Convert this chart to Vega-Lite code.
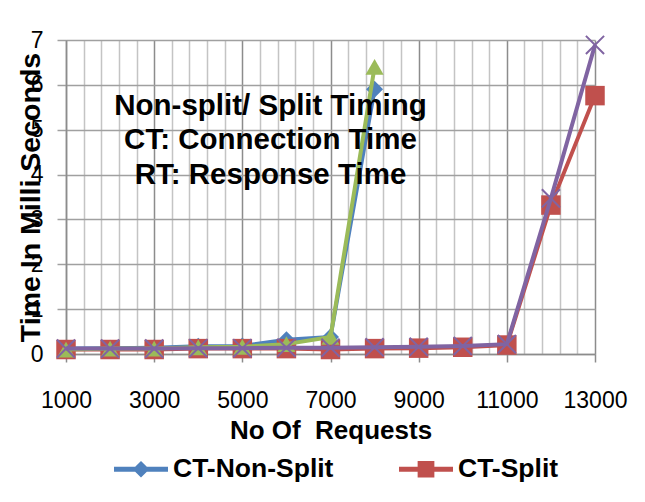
{
  "$schema": "https://vega.github.io/schema/vega-lite/v6.json",
  "width": 529,
  "height": 314,
  "autosize": {"type": "none"},
  "padding": {"left": 66, "top": 40, "right": 50, "bottom": 148},
  "background": "white",
  "config": {
    "font": "Liberation Sans",
    "view": {"stroke": null},
    "title": {"color": "black"}
  },
  "title": {
    "text": ["Non-split/ Split Timing", "CT: Connection Time", "RT: Response Time"],
    "fontSize": 29.5,
    "fontWeight": "bold",
    "lineHeight": 34.5,
    "color": "black",
    "anchor": "middle",
    "frame": "group",
    "baseline": "top",
    "orient": "top",
    "offset": 0,
    "dx": -60,
    "dy": 161
  },
  "data": {
    "values": [
      {"series": "CT-Non-Split", "requests": 1000, "time": 0.12},
      {"series": "CT-Non-Split", "requests": 2000, "time": 0.13},
      {"series": "CT-Non-Split", "requests": 3000, "time": 0.14},
      {"series": "CT-Non-Split", "requests": 4000, "time": 0.17},
      {"series": "CT-Non-Split", "requests": 5000, "time": 0.18},
      {"series": "CT-Non-Split", "requests": 6000, "time": 0.32},
      {"series": "CT-Non-Split", "requests": 7000, "time": 0.38},
      {"series": "CT-Non-Split", "requests": 8000, "time": 5.9},
      {"series": "CT-Split", "requests": 1000, "time": 0.1},
      {"series": "CT-Split", "requests": 2000, "time": 0.1},
      {"series": "CT-Split", "requests": 3000, "time": 0.1},
      {"series": "CT-Split", "requests": 4000, "time": 0.12},
      {"series": "CT-Split", "requests": 5000, "time": 0.12},
      {"series": "CT-Split", "requests": 6000, "time": 0.12},
      {"series": "CT-Split", "requests": 7000, "time": 0.1},
      {"series": "CT-Split", "requests": 8000, "time": 0.12},
      {"series": "CT-Split", "requests": 9000, "time": 0.13},
      {"series": "CT-Split", "requests": 10000, "time": 0.15},
      {"series": "CT-Split", "requests": 11000, "time": 0.2},
      {"series": "CT-Split", "requests": 12000, "time": 3.32},
      {"series": "CT-Split", "requests": 13000, "time": 5.76},
      {"series": "RT-Non-Split", "requests": 1000, "time": 0.1},
      {"series": "RT-Non-Split", "requests": 2000, "time": 0.12},
      {"series": "RT-Non-Split", "requests": 3000, "time": 0.12},
      {"series": "RT-Non-Split", "requests": 4000, "time": 0.15},
      {"series": "RT-Non-Split", "requests": 5000, "time": 0.16},
      {"series": "RT-Non-Split", "requests": 6000, "time": 0.22},
      {"series": "RT-Non-Split", "requests": 7000, "time": 0.38},
      {"series": "RT-Non-Split", "requests": 8000, "time": 6.4},
      {"series": "RT-Split", "requests": 1000, "time": 0.12},
      {"series": "RT-Split", "requests": 2000, "time": 0.12},
      {"series": "RT-Split", "requests": 3000, "time": 0.12},
      {"series": "RT-Split", "requests": 4000, "time": 0.13},
      {"series": "RT-Split", "requests": 5000, "time": 0.13},
      {"series": "RT-Split", "requests": 6000, "time": 0.14},
      {"series": "RT-Split", "requests": 7000, "time": 0.14},
      {"series": "RT-Split", "requests": 8000, "time": 0.15},
      {"series": "RT-Split", "requests": 9000, "time": 0.16},
      {"series": "RT-Split", "requests": 10000, "time": 0.18},
      {"series": "RT-Split", "requests": 11000, "time": 0.22},
      {"series": "RT-Split", "requests": 12000, "time": 3.47},
      {"series": "RT-Split", "requests": 13000, "time": 6.89}
    ]
  },
  "encoding": {
    "x": {
      "field": "requests",
      "type": "quantitative",
      "scale": {"domain": [1000, 13000], "nice": false, "zero": false},
      "axis": {
        "values": [1000,1400,1800,2200,2600,3000,3400,3800,4200,4600,5000,5400,5800,6200,6600,7000,7400,7800,8200,8600,9000,9400,9800,10200,10600,11000,11400,11800,12200,12600,13000],
        "format": "d",
        "labelExpr": "datum.value % 2000 === 1000 ? datum.label : ''",
        "labelFontSize": 23,
        "labelColor": "black",
        "labelPadding": 27,
        "labelFlush": false,
        "labelOverlap": false,
        "grid": true,
        "gridColor": {"condition": {"test": "datum.value % 2000 === 1000", "value": "#8c8c8c"}, "value": "#c4c4c4"},
        "gridWidth": 1.5,
        "gridOpacity": 1,
        "tickSize": 8,
        "tickWidth": 1.5,
        "tickColor": "#8c8c8c",
        "tickOpacity": {"condition": {"test": "datum.value % 2000 === 1000", "value": 1}, "value": 0},
        "domainColor": "#8c8c8c",
        "domainWidth": 1.5,
        "title": "No Of\u00a0 Requests",
        "titleFontSize": 26,
        "titleFontWeight": "bold",
        "titleColor": "black",
        "titleBaseline": "alphabetic",
        "titleY": 84
      }
    },
    "y": {
      "field": "time",
      "type": "quantitative",
      "scale": {"domain": [0, 7], "nice": false},
      "axis": {
        "values": [0, 1, 2, 3, 4, 5, 6, 7],
        "labelFontSize": 23,
        "labelColor": "black",
        "labelPadding": 14,
        "labelFlush": false,
        "grid": true,
        "gridColor": "#a0a0a0",
        "gridWidth": 1.5,
        "gridOpacity": 1,
        "tickSize": 9,
        "tickWidth": 1.5,
        "tickColor": "#a0a0a0",
        "domainColor": "#8c8c8c",
        "domainWidth": 1.5,
        "title": "Time In Milli Seconds",
        "titleFontSize": 28.5,
        "titleFontWeight": "bold",
        "titleColor": "black",
        "titleX": -36,
        "titleY": 157,
        "titleAlign": "center",
        "titleBaseline": "middle"
      }
    },
    "color": {
      "field": "series",
      "type": "nominal",
      "scale": {
        "domain": ["CT-Non-Split", "CT-Split", "RT-Non-Split", "RT-Split"],
        "range": ["#4F81BD", "#C0504D", "#9BBB59", "#8064A2"]
      },
      "legend": {
        "values": ["CT-Non-Split", "CT-Split"],
        "title": null,
        "orient": "none",
        "direction": "horizontal",
        "legendX": 48,
        "legendY": 402,
        "padding": 0,
        "symbolSize": 2916,
        "symbolStrokeWidth": 0,
        "labelFontSize": 26.5,
        "labelFontWeight": "bold",
        "labelColor": "black",
        "labelOffset": 5,
        "columnPadding": 65,
        "labelLimit": 400,
        "encode": {
          "symbols": {
            "update": {
              "shape": {"signal": "datum.value === 'CT-Split' ? 'M-1,-0.09H1V0.09H-1Z M-0.31,-0.31H0.31V0.31H-0.31Z' : 'M-1,-0.09H1V0.09H-1Z M0,-0.31L0.31,0L0,0.31L-0.31,0Z'"},
              "fill": {"signal": "datum.value === 'CT-Split' ? '#C0504D' : '#4F81BD'"},
              "strokeWidth": {"value": 0},
              "opacity": {"value": 1},
              "fillOpacity": {"value": 1}
            }
          }
        }
      }
    }
  },
  "layer": [
    {
      "transform": [{"filter": "datum.series === 'CT-Non-Split'"}],
      "mark": {"type": "line", "strokeWidth": 4, "point": {"shape": "diamond", "size": 289, "filled": true, "opacity": 1}}
    },
    {
      "transform": [{"filter": "datum.series === 'CT-Split'"}],
      "mark": {"type": "line", "strokeWidth": 4, "point": {"shape": "square", "size": 380, "filled": true, "opacity": 1}}
    },
    {
      "transform": [{"filter": "datum.series === 'RT-Non-Split'"}],
      "mark": {"type": "line", "strokeWidth": 4, "point": {"shape": "triangle-up", "size": 330, "filled": true, "opacity": 1}}
    },
    {
      "transform": [{"filter": "datum.series === 'RT-Split'"}],
      "mark": {"type": "line", "strokeWidth": 4, "point": {"shape": "M-1,-1L1,1M-1,1L1,-1", "size": 330, "filled": false, "strokeWidth": 2, "opacity": 1}}
    }
  ]
}
